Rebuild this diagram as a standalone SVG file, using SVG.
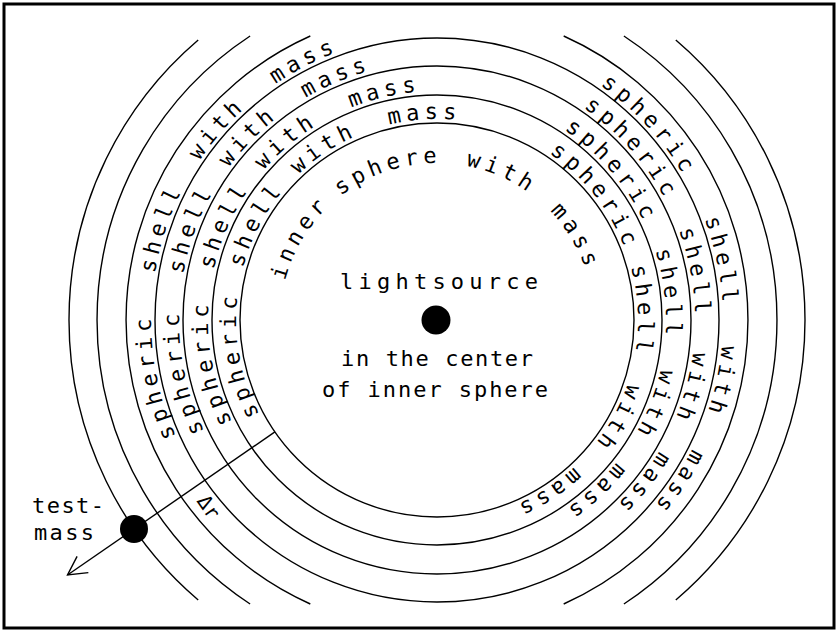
<svg xmlns="http://www.w3.org/2000/svg" width="838" height="632" viewBox="0 0 838 632">
<style>
.ln{fill:none;stroke:#000;stroke-width:1.4}
.t{font-family:"DejaVu Sans Mono","Liberation Mono",monospace;font-size:22px;fill:#000}
.w{letter-spacing:4.76px}
.dot{fill:#000}
</style>
<defs>
<path id="r157" d="M 594 320 A 157 157 0 1 1 280 320 A 157 157 0 1 1 594 320 A 157 157 0 1 1 280 320 A 157 157 0 1 1 594 320"/>
<path id="r201" d="M 638 320 A 201 201 0 1 1 236 320 A 201 201 0 1 1 638 320 A 201 201 0 1 1 236 320 A 201 201 0 1 1 638 320"/>
<path id="r229" d="M 666 320 A 229 229 0 1 1 208 320 A 229 229 0 1 1 666 320 A 229 229 0 1 1 208 320 A 229 229 0 1 1 666 320"/>
<path id="r258" d="M 695 320 A 258 258 0 1 1 179 320 A 258 258 0 1 1 695 320 A 258 258 0 1 1 179 320 A 258 258 0 1 1 695 320"/>
<path id="r286" d="M 723 320 A 286 286 0 1 1 151 320 A 286 286 0 1 1 723 320 A 286 286 0 1 1 151 320 A 286 286 0 1 1 723 320"/>
<marker id="arr" markerWidth="24" markerHeight="24" refX="0" refY="0" viewBox="-22 -12 24 24" orient="auto" markerUnits="userSpaceOnUse">
<path d="M -18.5 -9.9 L 0 0 L -18.5 9.9" fill="none" stroke="#000" stroke-width="1.4"/>
</marker>
</defs>
<rect x="4" y="4" width="830" height="624" fill="#fff" stroke="#000" stroke-width="3"/>
<g id="inner-sphere">
<circle class="ln" cx="437" cy="320" r="197"/>
<text class="t w"><textPath href="#r157" startOffset="532.6">inner</textPath></text>
<text class="t w"><textPath href="#r157" startOffset="635.9">sphere</textPath></text>
<text class="t w"><textPath href="#r157" startOffset="768.5">with</textPath></text>
<text class="t w"><textPath href="#r157" startOffset="865.2">mass</textPath></text>
</g>
<g id="shell-1">
<circle class="ln" cx="437" cy="320" r="225"/>
<text class="t w"><textPath href="#r201" startOffset="533.1">spheric</textPath></text>
<text class="t w"><textPath href="#r201" startOffset="684.0">shell</textPath></text>
<text class="t w"><textPath href="#r201" startOffset="793.8">with</textPath></text>
<text class="t w"><textPath href="#r201" startOffset="898.7">mass</textPath></text>
<text class="t w"><textPath href="#r201" startOffset="1066.0">spheric</textPath></text>
<text class="t w"><textPath href="#r201" startOffset="1208.8">shell</textPath></text>
<text class="t w"><textPath href="#r201" startOffset="1327.0">with</textPath></text>
<text class="t w"><textPath href="#r201" startOffset="1427.4">mass</textPath></text>
</g>
<g id="shell-2">
<circle class="ln" cx="437" cy="320" r="254"/>
<text class="t w"><textPath href="#r229" startOffset="613.2">spheric</textPath></text>
<text class="t w"><textPath href="#r229" startOffset="769.9">shell</textPath></text>
<text class="t w"><textPath href="#r229" startOffset="882.2">with</textPath></text>
<text class="t w"><textPath href="#r229" startOffset="990.5">mass</textPath></text>
<text class="t w"><textPath href="#r229" startOffset="1213.5">spheric</textPath></text>
<text class="t w"><textPath href="#r229" startOffset="1367.8">shell</textPath></text>
<text class="t w"><textPath href="#r229" startOffset="1487.3">with</textPath></text>
<text class="t w"><textPath href="#r229" startOffset="1591.6">mass</textPath></text>
</g>
<g id="shell-3">
<circle class="ln" cx="437" cy="320" r="282"/>
<text class="t w"><textPath href="#r258" startOffset="695.1">spheric</textPath></text>
<text class="t w"><textPath href="#r258" startOffset="856.3">shell</textPath></text>
<text class="t w"><textPath href="#r258" startOffset="972.9">with</textPath></text>
<text class="t w"><textPath href="#r258" startOffset="1077.4">mass</textPath></text>
<text class="t w"><textPath href="#r258" startOffset="1371.0">spheric</textPath></text>
<text class="t w"><textPath href="#r258" startOffset="1528.6">shell</textPath></text>
<text class="t w"><textPath href="#r258" startOffset="1652.4">with</textPath></text>
<text class="t w"><textPath href="#r258" startOffset="1757.8">mass</textPath></text>
</g>
<g id="shell-4">
<path class="ln" d="M 310.3 36 A 311 311 0 0 0 310.3 604"/>
<path class="ln" d="M 563.7 36 A 311 311 0 0 1 563.7 604"/>
<text class="t w"><textPath href="#r286" startOffset="778.2">spheric</textPath></text>
<text class="t w"><textPath href="#r286" startOffset="944.9">shell</textPath></text>
<text class="t w"><textPath href="#r286" startOffset="1066.7">with</textPath></text>
<text class="t w"><textPath href="#r286" startOffset="1175.5">mass</textPath></text>
<text class="t w"><textPath href="#r286" startOffset="1520.9">spheric</textPath></text>
<text class="t w"><textPath href="#r286" startOffset="1693.1">shell</textPath></text>
<text class="t w"><textPath href="#r286" startOffset="1821.5">with</textPath></text>
<text class="t w"><textPath href="#r286" startOffset="1929.8">mass</textPath></text>
</g>
<g id="outer-arcs">
<path class="ln" d="M 250.1 36 A 340 340 0 0 0 250.1 604"/>
<path class="ln" d="M 623.9 36 A 340 340 0 0 1 623.9 604"/>
<path class="ln" d="M 198.2 40 A 368 368 0 0 0 198.2 600"/>
<path class="ln" d="M 675.8 40 A 368 368 0 0 1 675.8 600"/>
</g>
<g id="lightsource">
<circle class="dot" cx="436" cy="320" r="14.5"/>
<text class="t" x="340" y="289" textLength="198" lengthAdjust="spacing">lightsource</text>
<text class="t" x="341" y="366" textLength="192" lengthAdjust="spacing">in the center</text>
<text class="t" x="322" y="397" textLength="226" lengthAdjust="spacing">of inner sphere</text>
</g>
<g id="connectors">
<line class="ln" x1="274.9" y1="431.9" x2="67.5" y2="575" marker-end="url(#arr)"/>
</g>
<g id="test-mass">
<circle class="dot" cx="134" cy="529" r="14"/>
<text class="t" x="32" y="513" textLength="72" lengthAdjust="spacing">test-</text>
<text class="t" x="34" y="540" textLength="60" lengthAdjust="spacing">mass</text>
</g>
<g id="delta-r">
<text class="t" style="font-size:20px" text-anchor="middle" x="203" y="511" transform="rotate(55.4 203 511)">Δr</text>
</g>
</svg>
